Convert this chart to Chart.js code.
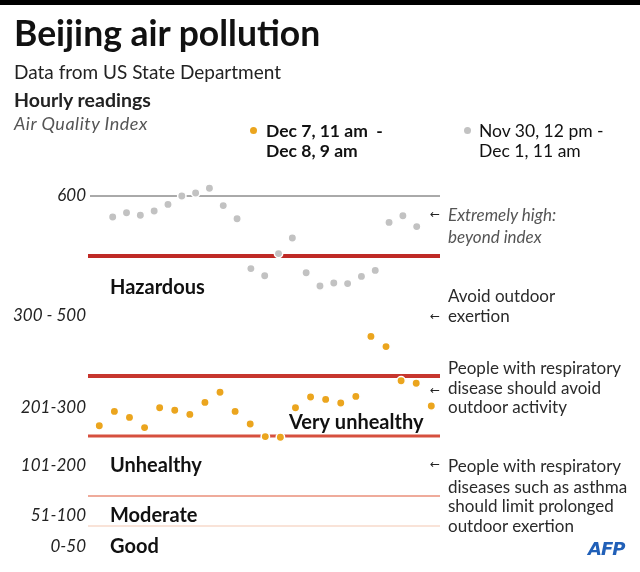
<!DOCTYPE html>
<html>
<head>
<meta charset="utf-8">
<script src="https://cdn.jsdelivr.net/npm/chart.js@4.4.0/dist/chart.umd.min.js"></script>
<style>
  html, body { margin: 0; padding: 0; background: #fff; }
  #wrap { position: relative; width: 640px; height: 572px; overflow: hidden; font-family: Lato, sans-serif; color: #1a1a1a; }
  #chart { position: absolute; left: 0; top: 0; }
  .bar { position: absolute; left: 0; top: 0; width: 640px; height: 5px; background: #000; }
  .t { position: absolute; white-space: nowrap; line-height: 1; }
  .title { left: 14px; top: 15px; font-size: 35.5px; font-weight: 700; color: #111; }
  .sub { left: 14px; top: 62px; font-size: 19px; color: #222; }
  .hourly { left: 14px; top: 90px; font-size: 19.5px; font-weight: 700; color: #222; }
  .unit { left: 14px; top: 114px; font-size: 18px; font-style: italic; color: #555; letter-spacing: 0.5px; }
  .leg { font-size: 17.5px; color: #111; }
  .dot { position: absolute; width: 7px; height: 7px; border-radius: 50%; }
  .note { left: 448px; font-size: 17px; color: #2a2a2a; }
  .note.it { font-style: italic; color: #555; }
  .arrow { position: absolute; left: 430px; font-size: 12px; line-height: 1; font-family: "DejaVu Sans", sans-serif; color: #222; }
  .afp { left: 588px; top: 540px; font-size: 18px; font-weight: 700; font-style: italic; color: #2160b8; font-family: "DejaVu Sans", sans-serif; letter-spacing: -1px; }
</style>
</head>
<body>
<div id="wrap">
  <canvas id="chart" width="640" height="572"></canvas>
  <div class="bar"></div>
  <div class="t title">Beijing air pollution</div>
  <div class="t sub">Data from US State Department</div>
  <div class="t hourly">Hourly readings</div>
  <div class="t unit">Air Quality Index</div>

  <span class="dot" style="left:250px; top:127px; background:#eba51e;"></span>
  <div class="t leg" style="left:266px; top:122px; font-weight:700;">Dec 7, 11 am&nbsp; -</div>
  <div class="t leg" style="left:266px; top:142px; font-weight:700;">Dec 8, 9 am</div>
  <span class="dot" style="left:464px; top:127px; background:#c2c2c2;"></span>
  <div class="t leg" style="left:479px; top:122px;">Nov 30, 12 pm -</div>
  <div class="t leg" style="left:479px; top:142px;">Dec 1, 11 am</div>

  <div class="arrow" style="top:208px;">&larr;</div>
  <div class="t note it" style="top:206px;">Extremely high:</div>
  <div class="t note it" style="top:228px;">beyond index</div>

  <div class="t note" style="top:287px;">Avoid outdoor</div>
  <div class="arrow" style="top:310px;">&larr;</div>
  <div class="t note" style="top:307px;">exertion</div>

  <div class="t note" style="top:359px;">People with respiratory</div>
  <div class="arrow" style="top:384px;">&larr;</div>
  <div class="t note" style="top:379px;">disease should avoid</div>
  <div class="t note" style="top:398px;">outdoor activity</div>

  <div class="arrow" style="top:458px;">&larr;</div>
  <div class="t note" style="top:457px;">People with respiratory</div>
  <div class="t note" style="top:478px;">diseases such as asthma</div>
  <div class="t note" style="top:497px;">should limit prolonged</div>
  <div class="t note" style="top:517px;">outdoor exertion</div>

  <div class="t afp">AFP</div>
</div>
<script>
// hourly AQI readings
const decHours = ['11am', '12pm', '1pm', '2pm', '3pm', '4pm', '5pm', '6pm', '7pm', '8pm', '9pm', '10pm',
                  '11pm', '12am', '1am', '2am', '3am', '4am', '5am', '6am', '7am', '8am', '9am'];
const decAqi = [217, 241, 231, 214, 247, 243, 236, 256, 273, 241, 220, 199,
                198, 247, 265, 261, 255, 266, 366, 349, 292, 288, 250];
const novAqi = [565, 572, 568, 575, 586, 600, 605, 613, 584, 562, 479, 467,
                504, 530, 472, 450, 455, 454, 466, 476, 556, 567, 549];

// y axis range labels and where they sit on the AQI scale
const rangeLabels = ['600', '300 - 500', '201-300', '101-200', '51-100', '0-50'];
const rangeLabelAqi = [600, 400, 248, 150, 68, 15];

// category names inside the plot
const bandNames = ['Hazardous', 'Very unhealthy', 'Unhealthy', 'Moderate', 'Good'];
const bandNameAqi = [448, 223, 150, 68, 15];
const bandNameX = [20, 199, 20, 20, 20];

// horizontal threshold lines
const thresholdAqi = [600, 500, 300, 200, 100, 50];
const thresholdColors = ['#555555', '#bf2a26', '#c7362e', '#d6503f', '#efab9b', '#f9e3d8'];
const thresholdWidths = [1, 4, 4, 3, 2, 2];

const bandPlugin = {
    id: 'bands',
    beforeDatasetsDraw(chart) {
        const { ctx, chartArea, scales } = chart;
        ctx.save();
        thresholdAqi.forEach((v, i) => {
            const y = scales.y.getPixelForValue(v);
            ctx.strokeStyle = thresholdColors[i];
            ctx.lineWidth = thresholdWidths[i];
            ctx.beginPath();
            ctx.moveTo(chartArea.left - (i === 0 ? 0 : 2), y);
            ctx.lineTo(chartArea.right, y);
            ctx.stroke();
        });
        ctx.restore();
    },
    afterDraw(chart) {
        const { ctx, chartArea, scales } = chart;
        ctx.save();
        ctx.font = 'bold 20px Lato';
        ctx.fillStyle = '#111';
        ctx.textBaseline = 'middle';
        bandNames.forEach((name, i) => {
            ctx.fillText(name, chartArea.left + bandNameX[i], scales.y.getPixelForValue(bandNameAqi[i]));
        });
        ctx.restore();
    }
};

const toPoints = arr => arr.map((v, i) => ({ x: i, y: v }));

new Chart(document.getElementById('chart'), {
    type: 'scatter',
    data: {
        datasets: [
            {
                label: 'Nov 30, 12 pm - Dec 1, 11 am',
                data: toPoints(novAqi),
                xAxisID: 'x2',
                backgroundColor: '#c2c2c2',
                borderColor: '#ffffff',
                borderWidth: 1.5,
                pointRadius: 4.2
            },
            {
                label: 'Dec 7, 11 am - Dec 8, 9 am',
                data: toPoints(decAqi),
                xAxisID: 'x',
                backgroundColor: '#eba51e',
                borderColor: '#ffffff',
                borderWidth: 1.5,
                pointRadius: 4.2
            }
        ]
    },
    options: {
        responsive: false,
        animation: false,
        events: [],
        layout: { padding: { left: 0, right: 200, top: 184, bottom: 16 } },
        scales: {
            x: { type: 'linear', min: -0.616, max: 22.577, display: false },
            x2: { type: 'linear', min: -1.643, max: 23.686, display: false },
            y: {
                min: 0,
                max: 620,
                afterFit: s => { s.width = 90; },
                afterBuildTicks: s => { s.ticks = rangeLabelAqi.map(v => ({ value: v })); },
                ticks: {
                    autoSkip: false,
                    padding: -4,
                    color: '#222',
                    font: { family: 'Lato', size: 17, style: 'italic' },
                    callback: (v, i) => rangeLabels[i]
                },
                grid: { display: false },
                border: { display: false }
            }
        },
        plugins: {
            legend: { display: false },
            tooltip: { enabled: false }
        }
    },
    plugins: [bandPlugin]
});
</script>
</body>
</html>
